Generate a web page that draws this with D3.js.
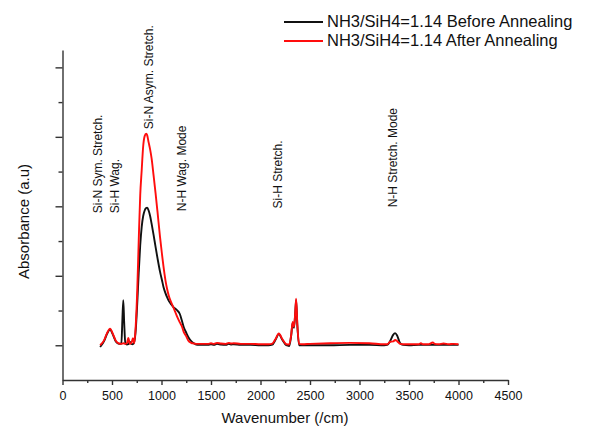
<!DOCTYPE html>
<html>
<head>
<meta charset="utf-8">
<script src="https://cdn.jsdelivr.net/npm/d3@7"></script>
<style>
  html, body { margin: 0; padding: 0; background: #fff; }
  svg { display: block; font-family: "Liberation Sans", Arial, sans-serif; }
  .axis path, .axis line { stroke: #333; stroke-width: 1.4px; }
  .axis text { font-size: 12.5px; fill: #111; }
</style>
</head>
<body>
<svg id="chart" width="590" height="428"></svg>
<script>
// FTIR spectra, NH3/SiH4 = 1.14, before / after annealing
const wavenumbers = [380, 420, 450, 480, 510, 540, 570, 595, 605, 614, 623, 635, 650, 665, 680, 695, 712, 725, 740, 755,
  770, 785, 800, 815, 830, 845, 855, 870, 885, 900, 920, 940, 960, 985, 1005, 1020, 1040, 1055, 1075, 1100,
  1120, 1140, 1160, 1185, 1205, 1225, 1250, 1270, 1300, 1325, 1350, 1380, 1420, 1470, 1500, 1530, 1560, 1600, 1650, 1680,
  1700, 1730, 1800, 1900, 2000, 2080, 2120, 2150, 2185, 2220, 2260, 2290, 2310, 2325, 2338, 2350, 2360, 2372, 2390, 2420,
  2500, 2700, 2900, 3100, 3250, 3280, 3310, 3340, 3360, 3380, 3410, 3440, 3500, 3600, 3620, 3640, 3700, 3740, 3760, 3800,
  3850, 3900, 3950, 4000];

const beforeAnnealing = [-0.005, 0.012, 0.033, 0.045, 0.030, 0.010, 0.004, 0.005, 0.075, 0.130, 0.065, 0.005, 0.002, 0.003, 0.010, 0.004, 0.003, 0.010, 0.045, 0.120,
  0.210, 0.288, 0.341, 0.372, 0.388, 0.395, 0.396, 0.388, 0.372, 0.350, 0.318, 0.283, 0.250, 0.212, 0.187, 0.168, 0.150, 0.139, 0.127, 0.117,
  0.110, 0.105, 0.100, 0.090, 0.072, 0.052, 0.036, 0.024, 0.012, 0.006, 0.002, 0.001, 0.001, 0.001, 0.003, 0.001, 0.004, 0.002, 0.001, 0.004,
  0.002, 0.003, 0.001, 0.001, 0.000, 0.000, 0.002, 0.015, 0.032, 0.016, 0.000, -0.002, 0.028, 0.065, 0.050, 0.088, 0.130, 0.058, 0.000, 0.000,
  0.000, 0.000, 0.001, 0.001, 0.000, 0.001, 0.012, 0.030, 0.035, 0.028, 0.006, 0.001, 0.000, 0.001, 0.001, 0.001, 0.001, 0.001, 0.001, 0.001,
  0.001, 0.001, 0.001, 0.001];

const afterAnnealing = [0.000, 0.014, 0.035, 0.048, 0.032, 0.012, 0.005, 0.004, 0.005, 0.006, 0.005, 0.004, 0.006, 0.021, 0.004, 0.006, 0.020, 0.006, 0.058, 0.158,
  0.302, 0.432, 0.504, 0.573, 0.602, 0.609, 0.605, 0.584, 0.564, 0.538, 0.489, 0.438, 0.383, 0.312, 0.262, 0.227, 0.187, 0.164, 0.141, 0.122,
  0.109, 0.095, 0.081, 0.066, 0.055, 0.038, 0.026, 0.014, 0.007, 0.005, 0.004, 0.004, 0.004, 0.004, 0.006, 0.004, 0.007, 0.005, 0.004, 0.007,
  0.005, 0.006, 0.004, 0.004, 0.003, 0.003, 0.005, 0.017, 0.034, 0.018, 0.003, 0.002, 0.030, 0.067, 0.053, 0.090, 0.134, 0.060, 0.004, 0.003,
  0.004, 0.006, 0.007, 0.006, 0.003, 0.003, 0.010, 0.011, 0.015, 0.012, 0.004, 0.003, 0.003, 0.003, 0.006, 0.003, 0.003, 0.008, 0.004, 0.003,
  0.005, 0.003, 0.004, 0.003];

const seriesNames = ['NH3/SiH4=1.14 Before Annealing', 'NH3/SiH4=1.14 After Annealing'];
const seriesColors = ['#111', '#ff0d0d'];

const xMajorTicks = [0, 500, 1000, 1500, 2000, 2500, 3000, 3500, 4000, 4500];
const xMinorTicks = [250, 750, 1250, 1750, 2250, 2750, 3250, 3750, 4250];
const yMajorTicks = [0, 0.2, 0.4, 0.6, 0.8];
const yMinorTicks = [0.1, 0.3, 0.5, 0.7];

// band assignments, anchored at (wavenumber, absorbance) of the label's start
const peakLabels = ['Si-N Sym. Stretch.', 'Si-H Wag.', 'Si-N Asym. Stretch.', 'N-H Wag. Mode', 'Si-H Stretch.', 'N-H Stretch. Mode'];
const peakLabelX = [399, 571, 914, 1247, 2217, 3374];
const peakLabelY = [0.38, 0.38, 0.622, 0.386, 0.394, 0.397];

const svg = d3.select('#chart');

const x = d3.scaleLinear().domain([0, 4500]).range([62.5, 508]);
const y = d3.scaleLinear().domain([-0.1, 0.85]).range([380, 50]);

// x axis: major with labels, minor without
svg.append('g')
  .attr('class', 'axis')
  .attr('transform', `translate(0,${y(-0.1)})`)
  .call(d3.axisBottom(x).tickValues(xMajorTicks).tickSize(5).tickSizeOuter(0).tickFormat(d3.format('d')))
  .call(g => g.selectAll('text').attr('y', 20).attr('dy', 0));

svg.append('g')
  .attr('class', 'axis')
  .attr('transform', `translate(0,${y(-0.1)})`)
  .call(d3.axisBottom(x).tickValues(xMinorTicks).tickSize(3).tickFormat(''))
  .call(g => g.select('.domain').remove());

// y axis: no labels
svg.append('g')
  .attr('class', 'axis')
  .attr('transform', `translate(${x(0)},0)`)
  .call(d3.axisLeft(y).tickValues(yMajorTicks).tickSize(7).tickSizeOuter(0).tickFormat(''));

svg.append('g')
  .attr('class', 'axis')
  .attr('transform', `translate(${x(0)},0)`)
  .call(d3.axisLeft(y).tickValues(yMinorTicks).tickSize(4).tickFormat(''))
  .call(g => g.select('.domain').remove());

// spectra
const line = d3.line()
  .x((d, i) => x(wavenumbers[i]))
  .y(d => y(d))
  .curve(d3.curveMonotoneX);

[beforeAnnealing, afterAnnealing].forEach((vals, i) => {
  svg.append('path')
    .datum(vals)
    .attr('fill', 'none')
    .attr('stroke', seriesColors[i])
    .attr('stroke-width', 1.9)
    .attr('stroke-linejoin', 'round')
    .attr('d', line);
});

// peak annotations (vertical text)
svg.selectAll('.peak')
  .data(peakLabels)
  .join('text')
  .attr('class', 'peak')
  .attr('transform', (d, i) => `translate(${x(peakLabelX[i])},${y(peakLabelY[i])}) rotate(-90)`)
  .attr('font-size', 12)
  .attr('fill', '#111')
  .text(d => d);

// axis titles
svg.append('text')
  .attr('transform', 'translate(28.5,221.5) rotate(-90)')
  .attr('text-anchor', 'middle')
  .attr('font-size', 15)
  .attr('fill', '#111')
  .text('Absorbance (a.u)');

svg.append('text')
  .attr('x', 285)
  .attr('y', 422.5)
  .attr('text-anchor', 'middle')
  .attr('font-size', 15)
  .attr('fill', '#111')
  .text('Wavenumber (/cm)');

// legend
const legend = svg.append('g').attr('transform', 'translate(284,22)');
seriesNames.forEach((name, i) => {
  const row = legend.append('g').attr('transform', `translate(0,${i * 19})`);
  row.append('line')
    .attr('x1', 0).attr('x2', 39)
    .attr('stroke', seriesColors[i])
    .attr('stroke-width', 2);
  row.append('text')
    .attr('x', 43)
    .attr('y', 5)
    .attr('font-size', 16.5)
    .attr('fill', '#111')
    .text(name);
});
</script>
</body>
</html>
